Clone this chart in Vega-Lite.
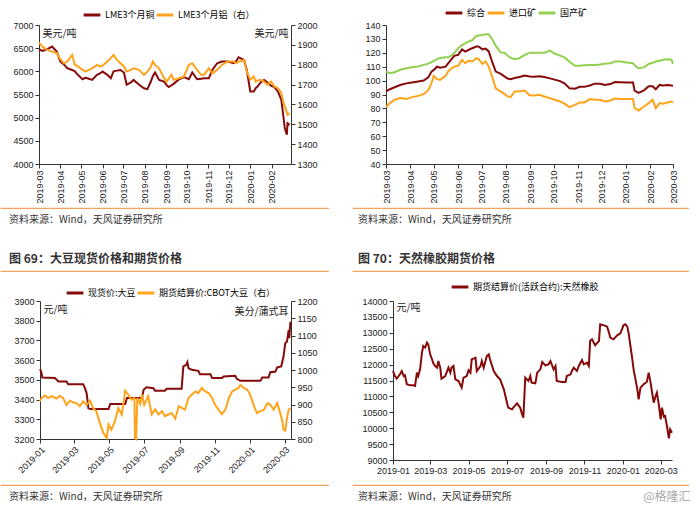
{
"$schema": "https://vega.github.io/schema/vega-lite/v6.json",
"padding": {"left": 0, "top": 3, "right": 0, "bottom": 0},
"spacing": 0,
"resolve": {"scale": {"color": "independent"}, "legend": {"color": "independent"}},
"title": {"text": "@格隆汇", "orient": "bottom", "anchor": "end", "offset": -11, "dx": 2, "fontSize": 12, "fontWeight": "normal", "color": "#aaaaaa"},
"datasets": {
"cual": [
{"d":"2019-03-01","cu":6480,"al":1911},{"d":"2019-03-06","cu":6440,"al":1891},{"d":"2019-03-13","cu":6480,"al":1874},{"d":"2019-03-20","cu":6535,"al":1866},{"d":"2019-03-27","cu":6420,"al":1858},{"d":"2019-04-01","cu":6210,"al":1828},{"d":"2019-04-06","cu":6150,"al":1807},{"d":"2019-04-11","cu":6070,"al":1816},{"d":"2019-04-18","cu":6030,"al":1849},{"d":"2019-04-22","cu":6000,"al":1799},{"d":"2019-04-25","cu":5945,"al":1795},{"d":"2019-05-03","cu":5830,"al":1774},{"d":"2019-05-07","cu":5860,"al":1766},{"d":"2019-05-10","cu":5850,"al":1770},{"d":"2019-05-17","cu":5815,"al":1782},{"d":"2019-05-24","cu":5925,"al":1799},{"d":"2019-05-29","cu":5960,"al":1791},{"d":"2019-06-01","cu":5995,"al":1795},{"d":"2019-06-08","cu":5925,"al":1816},{"d":"2019-06-13","cu":5850,"al":1833},{"d":"2019-06-17","cu":6000,"al":1849},{"d":"2019-06-22","cu":6015,"al":1824},{"d":"2019-06-27","cu":6030,"al":1807},{"d":"2019-07-02","cu":5975,"al":1791},{"d":"2019-07-06","cu":5710,"al":1766},{"d":"2019-07-12","cu":5760,"al":1774},{"d":"2019-07-16","cu":5815,"al":1782},{"d":"2019-07-24","cu":5710,"al":1774},{"d":"2019-07-31","cu":5635,"al":1749},{"d":"2019-08-05","cu":5615,"al":1765},{"d":"2019-08-10","cu":5780,"al":1790},{"d":"2019-08-13","cu":5900,"al":1816},{"d":"2019-08-16","cu":5975,"al":1799},{"d":"2019-08-22","cu":5815,"al":1782},{"d":"2019-08-29","cu":5780,"al":1732},{"d":"2019-09-02","cu":5700,"al":1715},{"d":"2019-09-05","cu":5660,"al":1730},{"d":"2019-09-09","cu":5700,"al":1749},{"d":"2019-09-12","cu":5730,"al":1724},{"d":"2019-09-20","cu":5830,"al":1732},{"d":"2019-09-27","cu":5875,"al":1741},{"d":"2019-10-04","cu":5830,"al":1799},{"d":"2019-10-09","cu":5975,"al":1807},{"d":"2019-10-16","cu":5830,"al":1774},{"d":"2019-10-22","cu":5840,"al":1749},{"d":"2019-10-26","cu":5850,"al":1749},{"d":"2019-11-02","cu":5850,"al":1782},{"d":"2019-11-07","cu":6030,"al":1757},{"d":"2019-11-14","cu":6175,"al":1774},{"d":"2019-11-21","cu":6210,"al":1799},{"d":"2019-11-29","cu":6210,"al":1816},{"d":"2019-12-08","cu":6175,"al":1816},{"d":"2019-12-12","cu":6230,"al":1807},{"d":"2019-12-15","cu":6305,"al":1816},{"d":"2019-12-23","cu":6245,"al":1824},{"d":"2019-12-27","cu":6030,"al":1766},{"d":"2020-01-01","cu":5565,"al":1724},{"d":"2020-01-06","cu":5565,"al":1741},{"d":"2020-01-09","cu":5640,"al":1715},{"d":"2020-01-11","cu":5660,"al":1720},{"d":"2020-01-16","cu":5760,"al":1724},{"d":"2020-01-21","cu":5815,"al":1715},{"d":"2020-01-26","cu":5760,"al":1699},{"d":"2020-01-31","cu":5690,"al":1715},{"d":"2020-02-05","cu":5660,"al":1690},{"d":"2020-02-10","cu":5565,"al":1682},{"d":"2020-02-15","cu":5385,"al":1657},{"d":"2020-02-18","cu":5025,"al":1610},{"d":"2020-02-20","cu":4775,"al":1590},{"d":"2020-02-23","cu":4630,"al":1560},{"d":"2020-02-24","cu":4880,"al":1548},{"d":"2020-02-27","cu":4845,"al":1556}
],
"ore": [
{"d":"2019-03-01","all":92.2,"imp":81,"dom":106.5},{"d":"2019-03-06","all":93.8,"imp":83.8,"dom":105.3},{"d":"2019-03-12","all":95.2,"imp":86.2,"dom":106},{"d":"2019-03-19","all":96.8,"imp":87.4,"dom":107.8},{"d":"2019-03-27","all":98,"imp":86.7,"dom":108.9},{"d":"2019-04-03","all":98.6,"imp":88.1,"dom":109.6},{"d":"2019-04-11","all":99.3,"imp":89,"dom":110.1},{"d":"2019-04-18","all":100,"imp":90.2,"dom":111.3},{"d":"2019-04-24","all":102.4,"imp":93.3,"dom":112.2},{"d":"2019-04-28","all":106.5,"imp":98.1,"dom":113.3},{"d":"2019-05-01","all":107.7,"imp":103.4,"dom":114.2},{"d":"2019-05-05","all":110,"imp":101,"dom":115.5},{"d":"2019-05-09","all":109.3,"imp":100.5,"dom":116.3},{"d":"2019-05-16","all":110,"imp":103.4,"dom":116.8},{"d":"2019-05-20","all":113,"imp":107.2,"dom":116.8},{"d":"2019-05-27","all":117.8,"imp":110.1,"dom":119.7},{"d":"2019-06-01","all":118.5,"imp":110.6,"dom":123.3},{"d":"2019-06-06","all":122.5,"imp":114.9,"dom":125.6},{"d":"2019-06-10","all":120.9,"imp":112.5,"dom":126.7},{"d":"2019-06-14","all":122,"imp":114.2,"dom":128},{"d":"2019-06-19","all":123.3,"imp":113.7,"dom":129},{"d":"2019-06-24","all":124.5,"imp":116.1,"dom":132.1},{"d":"2019-06-27","all":124.5,"imp":115.4,"dom":132.4},{"d":"2019-07-02","all":122.5,"imp":112,"dom":132.8},{"d":"2019-07-06","all":123,"imp":113.7,"dom":133.3},{"d":"2019-07-10","all":121,"imp":110.1,"dom":133.4},{"d":"2019-07-15","all":112.5,"imp":101.7,"dom":129.2},{"d":"2019-07-19","all":106.5,"imp":94.5,"dom":125},{"d":"2019-07-25","all":105,"imp":92.2,"dom":120.3},{"d":"2019-07-30","all":103,"imp":90.5,"dom":120},{"d":"2019-08-03","all":101.5,"imp":88.6,"dom":118},{"d":"2019-08-07","all":101,"imp":88.1,"dom":116.3},{"d":"2019-08-12","all":101.9,"imp":92.2,"dom":115.4},{"d":"2019-08-18","all":102.6,"imp":92.2,"dom":116.1},{"d":"2019-08-25","all":103.7,"imp":92.9,"dom":118.5},{"d":"2019-08-31","all":103,"imp":89.5,"dom":120.1},{"d":"2019-09-06","all":102.7,"imp":89.3,"dom":120.1},{"d":"2019-09-13","all":103.2,"imp":89.8,"dom":120.1},{"d":"2019-09-19","all":102.6,"imp":88.6,"dom":120.1},{"d":"2019-09-26","all":101.6,"imp":87.4,"dom":121.6},{"d":"2019-10-02","all":100.7,"imp":86.2,"dom":119.5},{"d":"2019-10-09","all":99.6,"imp":85,"dom":118},{"d":"2019-10-15","all":97.8,"imp":83.3,"dom":116.5},{"d":"2019-10-21","all":94.5,"imp":80.9,"dom":113.5},{"d":"2019-10-28","all":94.2,"imp":82.5,"dom":110.6},{"d":"2019-11-03","all":95.5,"imp":84.3,"dom":110.6},{"d":"2019-11-09","all":95.5,"imp":84.3,"dom":111},{"d":"2019-11-16","all":96.5,"imp":86.7,"dom":111.3},{"d":"2019-11-22","all":97.8,"imp":86.2,"dom":111.3},{"d":"2019-11-29","all":97.7,"imp":86.2,"dom":111.6},{"d":"2019-12-05","all":96.8,"imp":85,"dom":112.2},{"d":"2019-12-12","all":97.5,"imp":85.7,"dom":112.5},{"d":"2019-12-18","all":99,"imp":87.1,"dom":113.7},{"d":"2019-12-25","all":98.8,"imp":86.7,"dom":113.7},{"d":"2020-01-02","all":98.6,"imp":86.7,"dom":113},{"d":"2020-01-10","all":98.6,"imp":86.7,"dom":112.5},{"d":"2020-01-12","all":92.8,"imp":80.2,"dom":111},{"d":"2020-01-17","all":91.2,"imp":78.5,"dom":108.9},{"d":"2020-01-24","all":93,"imp":81.4,"dom":109.5},{"d":"2020-01-30","all":96,"imp":83.8,"dom":112},{"d":"2020-02-04","all":96,"imp":86.2,"dom":112.8},{"d":"2020-02-08","all":93.8,"imp":80.2,"dom":113.7},{"d":"2020-02-13","all":96.9,"imp":83.8,"dom":114.3},{"d":"2020-02-17","all":96.5,"imp":83.3,"dom":115},{"d":"2020-02-23","all":96.9,"imp":84.3,"dom":115.4},{"d":"2020-02-28","all":96.5,"imp":85,"dom":115},{"d":"2020-03-01","all":96.2,"imp":84.3,"dom":112}
],
"spot": [
{"d":"2019-01-01","v":3554},{"d":"2019-01-03","v":3542},{"d":"2019-01-05","v":3512},{"d":"2019-01-27","v":3509},{"d":"2019-02-02","v":3492},{"d":"2019-02-16","v":3492},{"d":"2019-02-19","v":3478},{"d":"2019-03-17","v":3478},{"d":"2019-03-20","v":3458},{"d":"2019-03-23","v":3433},{"d":"2019-03-26","v":3357},{"d":"2019-03-29","v":3352},{"d":"2019-04-30","v":3352},{"d":"2019-05-03","v":3377},{"d":"2019-05-29","v":3377},{"d":"2019-06-01","v":3408},{"d":"2019-06-27","v":3408},{"d":"2019-06-30","v":3450},{"d":"2019-07-05","v":3462},{"d":"2019-07-17","v":3458},{"d":"2019-07-20","v":3445},{"d":"2019-08-06","v":3445},{"d":"2019-08-09","v":3455},{"d":"2019-09-04","v":3455},{"d":"2019-09-07","v":3568},{"d":"2019-09-12","v":3576},{"d":"2019-09-14","v":3590},{"d":"2019-09-16","v":3559},{"d":"2019-09-22","v":3551},{"d":"2019-10-03","v":3546},{"d":"2019-10-06","v":3529},{"d":"2019-10-24","v":3529},{"d":"2019-10-27","v":3509},{"d":"2019-11-13","v":3509},{"d":"2019-11-16","v":3517},{"d":"2019-12-06","v":3521},{"d":"2019-12-09","v":3505},{"d":"2019-12-15","v":3495},{"d":"2020-01-19","v":3495},{"d":"2020-01-22","v":3512},{"d":"2020-02-02","v":3512},{"d":"2020-02-05","v":3539},{"d":"2020-02-14","v":3542},{"d":"2020-02-17","v":3563},{"d":"2020-02-24","v":3568},{"d":"2020-02-28","v":3618},{"d":"2020-03-02","v":3686},{"d":"2020-03-05","v":3694},{"d":"2020-03-08","v":3753},{"d":"2020-03-09","v":3711},{"d":"2020-03-11","v":3795}
],
"cbot": [
{"d":"2019-01-01","v":909},{"d":"2019-01-04","v":919},{"d":"2019-01-10","v":926},{"d":"2019-01-15","v":919},{"d":"2019-01-21","v":924},{"d":"2019-01-30","v":917},{"d":"2019-02-04","v":925},{"d":"2019-02-10","v":919},{"d":"2019-02-16","v":899},{"d":"2019-02-22","v":911},{"d":"2019-02-28","v":906},{"d":"2019-03-05","v":904},{"d":"2019-03-11","v":895},{"d":"2019-03-17","v":909},{"d":"2019-03-23","v":899},{"d":"2019-03-29","v":911},{"d":"2019-04-03","v":890},{"d":"2019-04-09","v":880},{"d":"2019-04-15","v":846},{"d":"2019-04-21","v":818},{"d":"2019-04-27","v":803},{"d":"2019-04-30","v":842},{"d":"2019-05-05","v":827},{"d":"2019-05-11","v":851},{"d":"2019-05-17","v":890},{"d":"2019-05-23","v":871},{"d":"2019-05-29","v":940},{"d":"2019-06-03","v":929},{"d":"2019-06-09","v":914},{"d":"2019-06-14","v":919},{"d":"2019-06-15","v":803},{"d":"2019-06-17","v":800},{"d":"2019-06-19","v":919},{"d":"2019-06-24","v":901},{"d":"2019-06-27","v":929},{"d":"2019-07-01","v":899},{"d":"2019-07-08","v":924},{"d":"2019-07-14","v":871},{"d":"2019-07-20","v":886},{"d":"2019-07-26","v":871},{"d":"2019-08-01","v":881},{"d":"2019-08-06","v":866},{"d":"2019-08-12","v":871},{"d":"2019-08-18","v":875},{"d":"2019-08-24","v":859},{"d":"2019-08-30","v":895},{"d":"2019-09-04","v":890},{"d":"2019-09-10","v":885},{"d":"2019-09-16","v":919},{"d":"2019-09-22","v":929},{"d":"2019-09-28","v":938},{"d":"2019-10-03","v":933},{"d":"2019-10-09","v":948},{"d":"2019-10-15","v":938},{"d":"2019-10-21","v":933},{"d":"2019-10-27","v":919},{"d":"2019-11-01","v":899},{"d":"2019-11-07","v":885},{"d":"2019-11-13","v":872},{"d":"2019-11-19","v":885},{"d":"2019-11-25","v":919},{"d":"2019-12-01","v":938},{"d":"2019-12-06","v":943},{"d":"2019-12-12","v":948},{"d":"2019-12-15","v":957},{"d":"2019-12-21","v":948},{"d":"2019-12-27","v":943},{"d":"2020-01-01","v":929},{"d":"2020-01-07","v":899},{"d":"2020-01-13","v":875},{"d":"2020-01-19","v":881},{"d":"2020-01-25","v":885},{"d":"2020-01-31","v":904},{"d":"2020-02-05","v":899},{"d":"2020-02-11","v":885},{"d":"2020-02-17","v":904},{"d":"2020-02-23","v":871},{"d":"2020-02-26","v":851},{"d":"2020-02-28","v":827},{"d":"2020-03-02","v":824},{"d":"2020-03-05","v":861},{"d":"2020-03-08","v":885},{"d":"2020-03-11","v":890}
],
"rub": [
{"d":"2019-01-01","v":11799},{"d":"2019-01-04","v":11641},{"d":"2019-01-07","v":11558},{"d":"2019-01-12","v":11694},{"d":"2019-01-15","v":11799},{"d":"2019-01-18","v":11641},{"d":"2019-01-20","v":11662},{"d":"2019-01-23","v":11380},{"d":"2019-01-28","v":11348},{"d":"2019-02-02","v":11348},{"d":"2019-02-05","v":11327},{"d":"2019-02-08","v":11746},{"d":"2019-02-10","v":11641},{"d":"2019-02-13","v":11851},{"d":"2019-02-16","v":12375},{"d":"2019-02-18","v":12585},{"d":"2019-02-21","v":12533},{"d":"2019-02-24","v":12690},{"d":"2019-02-26","v":12638},{"d":"2019-03-01","v":12323},{"d":"2019-03-04","v":12166},{"d":"2019-03-06","v":12040},{"d":"2019-03-09","v":11956},{"d":"2019-03-12","v":11904},{"d":"2019-03-14","v":12113},{"d":"2019-03-17","v":11904},{"d":"2019-03-19","v":11558},{"d":"2019-03-25","v":11641},{"d":"2019-03-30","v":11904},{"d":"2019-04-02","v":11746},{"d":"2019-04-04","v":11904},{"d":"2019-04-07","v":11956},{"d":"2019-04-10","v":11537},{"d":"2019-04-15","v":11484},{"d":"2019-04-20","v":11275},{"d":"2019-04-23","v":11589},{"d":"2019-04-28","v":11641},{"d":"2019-05-01","v":11820},{"d":"2019-05-04","v":11746},{"d":"2019-05-06","v":12166},{"d":"2019-05-12","v":12218},{"d":"2019-05-14","v":11799},{"d":"2019-05-20","v":11956},{"d":"2019-05-22","v":12113},{"d":"2019-05-25","v":11904},{"d":"2019-05-30","v":12270},{"d":"2019-06-02","v":12323},{"d":"2019-06-04","v":12166},{"d":"2019-06-10","v":11799},{"d":"2019-06-15","v":11641},{"d":"2019-06-20","v":11537},{"d":"2019-06-26","v":11222},{"d":"2019-07-01","v":10803},{"d":"2019-07-03","v":10646},{"d":"2019-07-09","v":10593},{"d":"2019-07-11","v":10646},{"d":"2019-07-17","v":10782},{"d":"2019-07-22","v":10646},{"d":"2019-07-25","v":10436},{"d":"2019-07-27","v":10331},{"d":"2019-07-30","v":11589},{"d":"2019-08-04","v":11484},{"d":"2019-08-07","v":11641},{"d":"2019-08-09","v":11432},{"d":"2019-08-15","v":11411},{"d":"2019-08-18","v":11746},{"d":"2019-08-23","v":11851},{"d":"2019-08-26","v":12082},{"d":"2019-08-31","v":11977},{"d":"2019-09-05","v":12008},{"d":"2019-09-08","v":12113},{"d":"2019-09-13","v":11851},{"d":"2019-09-16","v":11956},{"d":"2019-09-18","v":11484},{"d":"2019-09-26","v":11453},{"d":"2019-10-02","v":11453},{"d":"2019-10-04","v":11641},{"d":"2019-10-10","v":11694},{"d":"2019-10-12","v":11799},{"d":"2019-10-15","v":11904},{"d":"2019-10-20","v":11799},{"d":"2019-10-23","v":11956},{"d":"2019-10-28","v":12145},{"d":"2019-10-31","v":12008},{"d":"2019-11-05","v":12061},{"d":"2019-11-08","v":11956},{"d":"2019-11-10","v":12742},{"d":"2019-11-13","v":12795},{"d":"2019-11-18","v":12606},{"d":"2019-11-24","v":12742},{"d":"2019-11-26","v":13266},{"d":"2019-12-02","v":13235},{"d":"2019-12-07","v":13193},{"d":"2019-12-10","v":13004},{"d":"2019-12-12","v":12847},{"d":"2019-12-17","v":12795},{"d":"2019-12-23","v":12920},{"d":"2019-12-28","v":12983},{"d":"2019-12-31","v":13130},{"d":"2020-01-02","v":13235},{"d":"2020-01-05","v":13266},{"d":"2020-01-08","v":13193},{"d":"2020-01-10","v":13004},{"d":"2020-01-13","v":12585},{"d":"2020-01-16","v":12166},{"d":"2020-01-18","v":11851},{"d":"2020-01-21","v":11537},{"d":"2020-01-24","v":11222},{"d":"2020-01-26","v":10908},{"d":"2020-01-29","v":11275},{"d":"2020-02-03","v":11380},{"d":"2020-02-08","v":11453},{"d":"2020-02-11","v":11746},{"d":"2020-02-14","v":11432},{"d":"2020-02-16","v":11170},{"d":"2020-02-19","v":10803},{"d":"2020-02-22","v":11013},{"d":"2020-02-24","v":11118},{"d":"2020-02-27","v":10750},{"d":"2020-03-01","v":10279},{"d":"2020-03-03","v":10646},{"d":"2020-03-06","v":10363},{"d":"2020-03-08","v":10384},{"d":"2020-03-11","v":10069},{"d":"2020-03-14","v":9682},{"d":"2020-03-16","v":9965},{"d":"2020-03-19","v":9860}
]
},
"vconcat": [
{"hconcat": [
 {"width": 11, "height": 1, "data": {"values": []}, "mark": "point"},
 {"width": 252, "height": 139, "data": {"name": "cual"},
  "encoding": {"x": {"field": "d", "type": "temporal", "scale": {"type": "utc", "domain": ["2019-03-01", "2020-02-29"]}, "axis": {"format": "%Y-%m", "labelAngle": -90, "tickCount": {"interval": "month", "step": 1}, "title": null}}},
  "layer": [
   {"mark": {"type": "line", "strokeWidth": 2}, "encoding": {"y": {"field": "cu", "type": "quantitative", "scale": {"domain": [4000, 7000], "nice": false, "zero": false}, "axis": {"format": "d", "values": [4000,4500,5000,5500,6000,6500,7000], "title": "美元/吨", "titleAngle": 0, "titleAlign": "left", "titleBaseline": "middle", "titleX": 3, "titleY": 8}}, "color": {"datum": "LME3个月铜", "type": "nominal", "scale": {"domain": ["LME3个月铜", "LME3个月铝（右）"], "range": ["#870A0A", "#FFA31A"]}, "legend": {"legendX": 43, "legendY": -20}}}},
   {"mark": {"type": "line", "strokeWidth": 2}, "encoding": {"y": {"field": "al", "type": "quantitative", "scale": {"domain": [1300, 2000], "nice": false, "zero": false}, "axis": {"format": "d", "orient": "right", "values": [1300,1400,1500,1600,1700,1800,1900,2000], "title": "美元/吨", "titleAngle": 0, "titleAlign": "right", "titleBaseline": "middle", "titleX": -3, "titleY": 8}}, "color": {"datum": "LME3个月铝（右）", "type": "nominal"}}}
  ],
  "resolve": {"scale": {"y": "independent"}}
 },
 {"width": 46, "height": 1, "data": {"values": []}, "mark": "point"},
 {"width": 287, "height": 139, "data": {"name": "ore"},
  "encoding": {"x": {"field": "d", "type": "temporal", "scale": {"type": "utc", "domain": ["2019-03-01", "2020-03-01"]}, "axis": {"format": "%Y-%m", "labelAngle": -90, "tickCount": {"interval": "month", "step": 1}, "title": null}}},
  "layer": [
   {"mark": {"type": "line", "strokeWidth": 2}, "encoding": {"y": {"field": "all", "type": "quantitative", "scale": {"domain": [40, 140], "nice": false, "zero": false}, "axis": {"format": "d", "values": [40,50,60,70,80,90,100,110,120,130,140], "labelOverlap": false, "title": null}}, "color": {"datum": "综合", "type": "nominal", "scale": {"domain": ["综合", "进口矿", "国产矿"], "range": ["#870A0A", "#FFA31A", "#92D050"]}, "legend": {"legendX": 58, "legendY": -22}}}},
   {"mark": {"type": "line", "strokeWidth": 2}, "encoding": {"y": {"field": "imp", "type": "quantitative", "axis": {"format": "d", "values": [40,50,60,70,80,90,100,110,120,130,140], "labelOverlap": false, "title": null}}, "color": {"datum": "进口矿", "type": "nominal"}}},
   {"mark": {"type": "line", "strokeWidth": 2}, "encoding": {"y": {"field": "dom", "type": "quantitative", "axis": {"format": "d", "values": [40,50,60,70,80,90,100,110,120,130,140], "labelOverlap": false, "title": null}}, "color": {"datum": "国产矿", "type": "nominal"}}}
  ]
 }
 ], "spacing": 0, "resolve": {"scale": {"color": "independent"}, "legend": {"color": "independent"}}},
{"width": 1, "height": 2.5, "data": {"values": []}, "mark": "point"},
{"hconcat": [
 {"width": 327, "height": 0.01, "data": {"values": []}, "mark": "point", "view": {"stroke": "#F3A35C", "strokeWidth": 1.2}, "title": {"text": "资料来源：Wind，天风证券研究所", "orient": "bottom", "anchor": "start", "offset": 7, "dx": 8, "fontSize": 10, "fontWeight": "normal", "color": "#333333"}},
 {"width": 23, "height": 0.01, "data": {"values": []}, "mark": "point"},
 {"width": 335, "height": 0.01, "data": {"values": []}, "mark": "point", "view": {"stroke": "#F3A35C", "strokeWidth": 1.2}, "title": {"text": "资料来源：Wind，天风证券研究所", "orient": "bottom", "anchor": "start", "offset": 7, "dx": 5, "fontSize": 10, "fontWeight": "normal", "color": "#333333"}}
 ], "spacing": 0},
{"width": 1, "height": 26, "data": {"values": []}, "mark": "point"},
{"hconcat": [
 {"width": 327, "height": 0.01, "data": {"values": []}, "mark": "point", "view": {"stroke": "#F3A35C", "strokeWidth": 1.2}, "title": {"text": "图 69：大豆现货价格和期货价格", "orient": "top", "anchor": "start", "offset": 5, "dx": 8, "fontSize": 12, "fontWeight": "bold", "color": "#333333"}},
 {"width": 23, "height": 0.01, "data": {"values": []}, "mark": "point"},
 {"width": 335, "height": 0.01, "data": {"values": []}, "mark": "point", "view": {"stroke": "#F3A35C", "strokeWidth": 1.2}, "title": {"text": "图 70：天然橡胶期货价格", "orient": "top", "anchor": "start", "offset": 5, "dx": 5, "fontSize": 12, "fontWeight": "bold", "color": "#333333"}}
 ], "spacing": 0},
{"width": 1, "height": 5, "data": {"values": []}, "mark": "point"},
{"hconcat": [
 {"width": 12, "height": 1, "data": {"values": []}, "mark": "point"},
 {"width": 251, "height": 138, "layer": [
   {"data": {"name": "spot"}, "mark": {"type": "line", "strokeWidth": 2}, "encoding": {
     "x": {"field": "d", "type": "temporal", "scale": {"type": "utc", "domain": ["2019-01-01", "2020-03-12"]}, "axis": {"format": "%Y-%m", "labelAngle": -45, "tickCount": {"interval": "month", "step": 2}, "title": null}},
     "y": {"field": "v", "type": "quantitative", "scale": {"domain": [3200, 3900], "nice": false, "zero": false}, "axis": {"format": "d", "values": [3200,3300,3400,3500,3600,3700,3800,3900], "title": "元/吨", "titleAngle": 0, "titleAlign": "left", "titleBaseline": "middle", "titleX": 3, "titleY": 8}},
     "color": {"datum": "现货价:大豆", "type": "nominal", "scale": {"domain": ["现货价:大豆", "期货结算价:CBOT大豆（右）"], "range": ["#870A0A", "#FFA31A"]}, "legend": {"legendX": 25, "legendY": -18}}}},
   {"data": {"name": "cbot"}, "mark": {"type": "line", "strokeWidth": 2}, "encoding": {
     "x": {"field": "d", "type": "temporal"},
     "y": {"field": "v", "type": "quantitative", "scale": {"domain": [800, 1200], "nice": false, "zero": false}, "axis": {"format": "d", "orient": "right", "values": [800,850,900,950,1000,1050,1100,1150,1200], "title": "美分/蒲式耳", "titleAngle": 0, "titleAlign": "right", "titleBaseline": "middle", "titleX": -3, "titleY": 10}},
     "color": {"datum": "期货结算价:CBOT大豆（右）", "type": "nominal"}}}
  ],
  "resolve": {"scale": {"y": "independent"}}
 },
 {"width": 43, "height": 1, "data": {"values": []}, "mark": "point"},
 {"width": 279, "height": 159, "data": {"name": "rub"}, "mark": {"type": "line", "strokeWidth": 2}, "encoding": {
   "x": {"field": "d", "type": "temporal", "scale": {"type": "utc", "domain": ["2019-01-01", "2020-03-19"]}, "axis": {"format": "%Y-%m", "labelAngle": 0, "tickCount": {"interval": "month", "step": 2}, "title": null}},
   "y": {"field": "v", "type": "quantitative", "scale": {"domain": [9000, 14000], "nice": false, "zero": false}, "axis": {"format": "d", "values": [9000,9500,10000,10500,11000,11500,12000,12500,13000,13500,14000], "title": "元/吨", "titleAngle": 0, "titleAlign": "left", "titleBaseline": "middle", "titleX": 3, "titleY": 6}},
   "color": {"datum": "期货结算价(活跃合约):天然橡胶", "type": "nominal", "scale": {"domain": ["期货结算价(活跃合约):天然橡胶"], "range": ["#870A0A"]}, "legend": {"legendX": 57, "legendY": -24}}}}
 ], "spacing": 0, "resolve": {"scale": {"color": "independent"}, "legend": {"color": "independent"}}},
{"width": 1, "height": 9, "data": {"values": []}, "mark": "point"},
{"hconcat": [
 {"width": 327, "height": 0.01, "data": {"values": []}, "mark": "point", "view": {"stroke": "#F3A35C", "strokeWidth": 1.2}, "title": {"text": "资料来源：Wind，天风证券研究所", "orient": "bottom", "anchor": "start", "offset": 7, "dx": 8, "fontSize": 10, "fontWeight": "normal", "color": "#333333"}},
 {"width": 23, "height": 0.01, "data": {"values": []}, "mark": "point"},
 {"width": 335, "height": 0.01, "data": {"values": []}, "mark": "point", "view": {"stroke": "#F3A35C", "strokeWidth": 1.2}, "title": {"text": "资料来源：Wind，天风证券研究所", "orient": "bottom", "anchor": "start", "offset": 7, "dx": 5, "fontSize": 10, "fontWeight": "normal", "color": "#333333"}}
 ], "spacing": 0}
],
"config": {
 "font": "Liberation Sans, Noto Sans CJK SC",
 "view": {"stroke": null},
 "concat": {"spacing": 0},
 "axis": {"labelFontSize": 9, "labelColor": "#222222", "domainColor": "#333333", "tickColor": "#333333", "tickSize": 4, "grid": false, "labelOverlap": false, "labelFlush": false, "titleFontWeight": "normal", "titleFontSize": 10, "titleColor": "#222222", "minExtent": 0, "labelPadding": 2, "labelFont": "Liberation Sans, Noto Sans CJK SC", "titleFont": "Noto Sans CJK SC"},
 "legend": {"orient": "none", "direction": "horizontal", "title": null, "labelFontSize": 9, "labelFont": "Noto Sans CJK SC", "symbolStrokeWidth": 3, "symbolSize": 280, "columnPadding": -5, "labelLimit": 300, "labelOffset": 3},
 "title": {"font": "Noto Sans CJK SC"}
}
}
